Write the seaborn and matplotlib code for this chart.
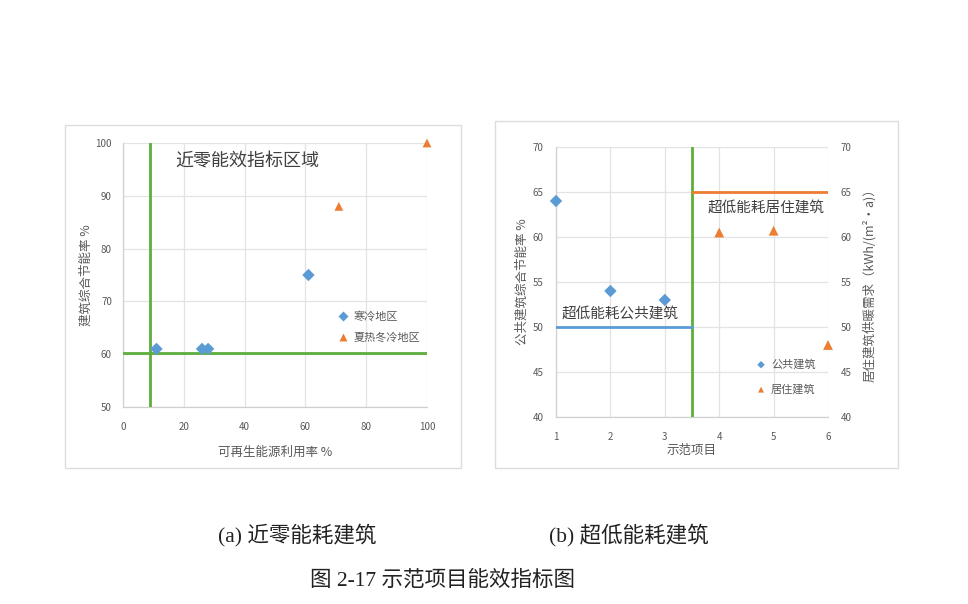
import matplotlib
matplotlib.use("Agg")
import matplotlib.pyplot as plt
import matplotlib.patches as patches
import seaborn as sns
import pandas as pd

# ---- data ----
cold_x = [11, 26, 28, 61]
cold_y = [61, 61, 61, 75]
hot_x = [71, 100]
hot_y = [88, 100]

pub_x = [1, 2, 3]
pub_y = [64, 54, 53]
res_x = [4, 5, 6]
res_y = [60.5, 60.7, 48]

# threshold lines
nz_renew = 9
nz_saving = 60.3
split_x = 3.5
pub_limit = 50
res_limit = 65

BLUE = "#5B9BD5"
ORANGE = "#ED7D31"
GREEN = "#5DAE3C"
GRID = "#e3e3e3"
TXT = "#595959"

sns.set_theme(style="whitegrid")
plt.rcParams["font.family"] = ["Noto Sans CJK SC", "DejaVu Sans"]
plt.rcParams["axes.unicode_minus"] = False

W, H = 968, 604
fig = plt.figure(figsize=(W / 100, H / 100), dpi=100)
fig.patch.set_facecolor("white")


def px_axes(x0, y0, x1, y1):
    return fig.add_axes([x0 / W, 1 - y1 / H, (x1 - x0) / W, (y1 - y0) / H])


def frame(x0, y0, x1, y1):
    fig.patches.append(patches.Rectangle((x0 / W, 1 - y1 / H), (x1 - x0) / W, (y1 - y0) / H,
                                         transform=fig.transFigure, fill=False,
                                         edgecolor="#dcdcdc", linewidth=1.0))


def style(ax):
    ax.set_facecolor("white")
    ax.grid(True, color=GRID, linewidth=0.9)
    for s in ["top", "right"]:
        ax.spines[s].set_visible(False)
    for s in ["left", "bottom"]:
        ax.spines[s].set_color("#d0d0d0")
        ax.spines[s].set_linewidth(0.9)
    ax.tick_params(axis="both", length=0, labelsize=7, colors=TXT)


frame(65, 125, 461, 468)
frame(495, 121, 898, 468)

# =============================================================================
# (a) near zero energy
# =============================================================================
ax1 = px_axes(123, 143, 427, 407)
style(ax1)
df_a = pd.DataFrame({"x": cold_x + hot_x, "y": cold_y + hot_y,
                     "region": ["寒冷地区"] * len(cold_x) + ["夏热冬冷地区"] * len(hot_x)})
ax1.axvline(nz_renew, color=GREEN, lw=2.0, zorder=3)
ax1.axhline(nz_saving, color=GREEN, lw=2.0, zorder=3)
sns.scatterplot(data=df_a, x="x", y="y", hue="region", style="region",
                palette={"寒冷地区": BLUE, "夏热冬冷地区": ORANGE},
                markers={"寒冷地区": "D", "夏热冬冷地区": "^"},
                s=40, edgecolor="none", ax=ax1, clip_on=False, zorder=4)
ax1.set_xlim(0, 100)
ax1.set_ylim(50, 100)
ax1.set_xticks(range(0, 101, 20))
ax1.set_yticks(range(50, 101, 10))
ax1.tick_params(axis="x", pad=11)
ax1.tick_params(axis="y", pad=8)
ax1.set_xlabel("可再生能源利用率 %", fontsize=9, color=TXT, labelpad=10)
ax1.set_ylabel("建筑综合节能率 %", fontsize=9, color=TXT, labelpad=2)
ax1.text(17.1, 96.5, "近零能效指标区域", fontsize=13, color="#404040", va="center", ha="left")
ax1.legend(loc="upper left", bbox_to_anchor=(0.688, 0.385), frameon=False, fontsize=8,
           handlelength=1.0, handletextpad=0.4, labelspacing=1.0, borderpad=0,
           markerscale=0.8, labelcolor=TXT, title=None)

# =============================================================================
# (b) ultra low energy
# =============================================================================
ax2 = px_axes(556, 147, 828, 417)
style(ax2)
ax2.axvline(split_x, color=GREEN, lw=2.0, zorder=3)
ax2.plot([1, split_x], [pub_limit, pub_limit], color=BLUE, lw=2.0, zorder=3)
ax2.plot([split_x, 6], [res_limit, res_limit], color=ORANGE, lw=2.0, zorder=3)
sns.scatterplot(x=pub_x, y=pub_y, marker="D", color=BLUE, s=40, edgecolor="none",
                ax=ax2, clip_on=False, zorder=4, label="公共建筑")
ax2.set_xlim(1, 6)
ax2.set_ylim(40, 70)
ax2.set_xticks(range(1, 7))
ax2.set_yticks(range(40, 71, 5))
ax2.tick_params(axis="x", pad=11)
ax2.tick_params(axis="y", pad=9)
ax2.set_xlabel("示范项目", fontsize=9, color=TXT, labelpad=1)
ax2.set_ylabel("公共建筑综合节能率 %", fontsize=9, color=TXT, labelpad=3)

ax3 = ax2.twinx()
ax3.grid(False)
for s in ax3.spines.values():
    s.set_visible(False)
sns.scatterplot(x=res_x, y=res_y, marker="^", color=ORANGE, s=50, edgecolor="none",
                ax=ax3, clip_on=False, zorder=4, label="居住建筑")
ax3.set_ylim(40, 70)
ax3.set_yticks(range(40, 71, 5))
ax3.tick_params(axis="y", length=0, labelsize=7, colors=TXT, pad=9)
ax3.set_ylabel("居住建筑供暖需求（kWh/(m²·a)）", fontsize=9, color=TXT, labelpad=8, rotation=90)
ax3.text(3.79, 63.3, "超低能耗居住建筑", fontsize=10.5, color="#404040", va="center", ha="left")
ax3.text(1.11, 51.5, "超低能耗公共建筑", fontsize=10.5, color="#404040", va="center", ha="left")

h1, l1 = ax2.get_legend_handles_labels()
h2, l2 = ax3.get_legend_handles_labels()
if ax2.get_legend():
    ax2.get_legend().remove()
ax3.legend(h1 + h2, l1 + l2, loc="upper left", bbox_to_anchor=(0.713, 0.235), frameon=False,
           fontsize=8, handlelength=1.0, handletextpad=0.4, labelspacing=1.3, borderpad=0,
           markerscale=0.6, labelcolor=TXT)

# captions
cap_font = ["Liberation Serif", "Noto Sans CJK SC"]
fig.text(297 / W, 1 - 535 / H, "(a) 近零能耗建筑", fontsize=15.5, family=cap_font,
         ha="center", va="center", color="#222222")
fig.text(629 / W, 1 - 535 / H, "(b) 超低能耗建筑", fontsize=15.5, family=cap_font,
         ha="center", va="center", color="#222222")
fig.text(442 / W, 1 - 580 / H, "图 2-17 示范项目能效指标图", fontsize=15.5, family=cap_font,
         ha="center", va="center", color="#222222")

fig.savefig("out.png", dpi=100, facecolor="white")
